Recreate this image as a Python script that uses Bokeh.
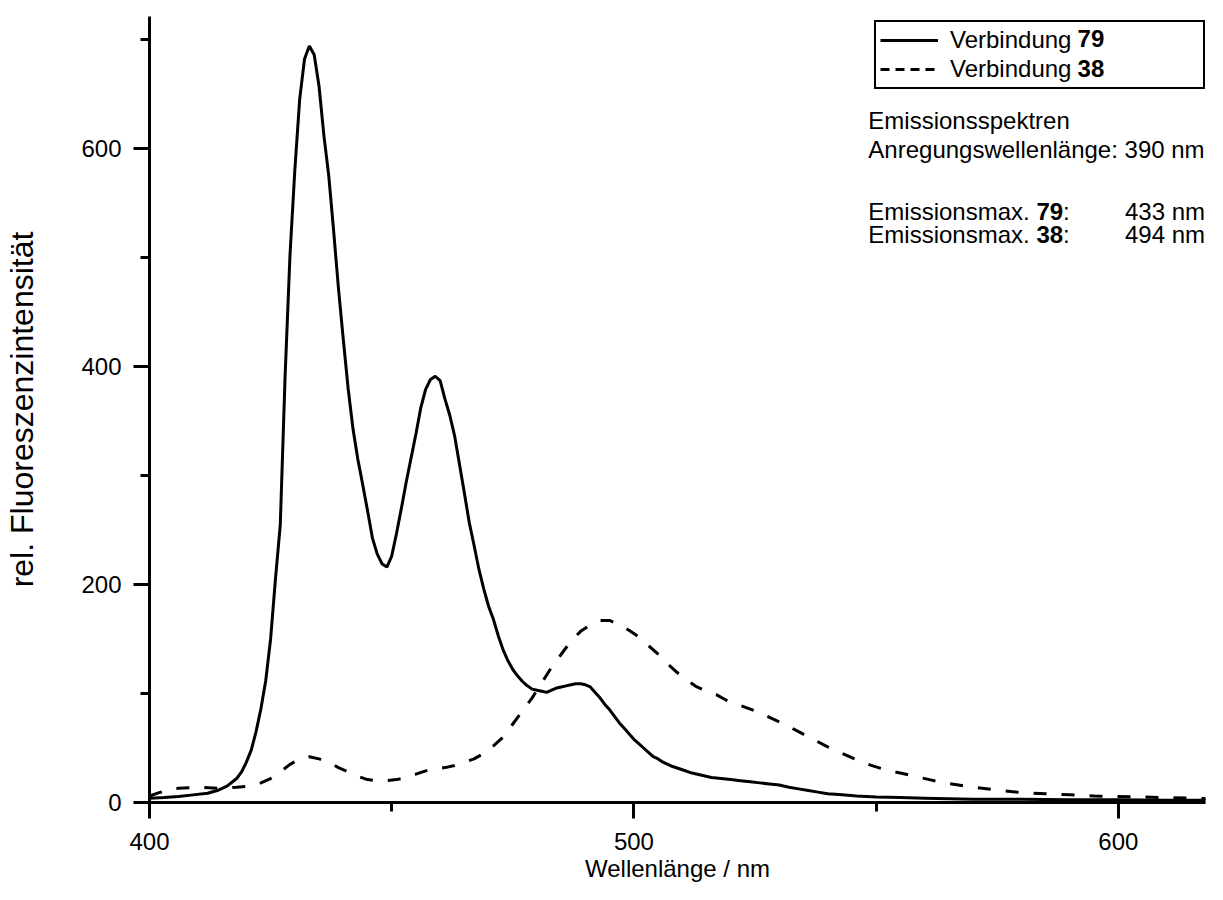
from bokeh.plotting import figure
from bokeh.models import FixedTicker, Legend, LegendItem, Label
from bokeh.embed import file_html
from bokeh.resources import INLINE

# ---------------- data ----------------
wl_79 = [400, 403, 406, 409, 412, 414, 416, 418, 419, 420, 421, 422, 423, 424, 425,
         426, 427, 428, 429, 430, 431, 432, 433, 434, 435, 436, 437, 438, 439, 440,
         441, 442, 443, 444, 445, 446, 447, 448, 449, 450, 451, 452, 453, 454, 455,
         456, 457, 458, 459, 460, 461, 462, 463, 464, 465, 466, 467, 468, 469, 470,
         471, 472, 473, 474, 475, 476, 477, 478, 479, 480, 481, 482, 483, 484, 485,
         486, 487, 488, 489, 490, 491, 492, 493, 494, 495, 496, 497, 498, 499, 500,
         501, 502, 503, 504, 505, 506, 507, 508, 510, 512, 514, 516, 518, 520, 522,
         524, 526, 528, 530, 532, 534, 536, 538, 540, 543, 546, 550, 555, 560, 565,
         570, 580, 590, 600, 610, 620]
int_79 = [4, 4.5, 5.5, 7, 8.5, 11, 15, 22, 28, 37, 48, 65, 86, 112, 150,
          205, 255, 392, 502, 580, 645, 682, 694, 686, 657, 612, 575, 525, 472, 425,
          380, 343, 315, 292, 268, 243, 228, 219, 216, 226, 247, 270, 294, 316, 338,
          362, 379, 388, 391, 387, 370, 355, 336, 310, 284, 257, 236, 214, 196, 180,
          168, 153, 140, 130, 122, 116, 111, 107, 104, 103, 102, 101, 103, 105, 106,
          107, 108, 109, 109, 108, 106, 101, 96, 90, 85, 79, 73, 68, 63, 58,
          54, 50, 46, 42, 40, 37, 35, 33, 30, 27, 25, 23, 22, 21, 20,
          19, 18, 17, 16, 14, 12.5, 11, 9.5, 8, 7, 6, 5, 4.5, 4, 3.5,
          3, 3, 2.5, 2.5, 2, 2]

wl_38 = [400, 402, 404, 406, 410, 414, 418, 421, 423, 425, 427, 429, 431, 433, 435,
         437, 439, 441, 443, 445, 447, 449, 451, 453, 455, 457, 459, 461, 463, 465,
         467, 469, 471, 473, 475, 477, 479, 481, 483, 485, 487, 489, 491, 493, 495,
         497, 499, 501, 503, 505, 507, 509, 511, 513, 515, 517, 519, 522, 525, 528,
         531, 534, 537, 540, 543, 546, 549, 552, 555, 558, 561, 564, 567, 570, 575,
         580, 585, 590, 595, 600, 605, 610, 615, 620]
int_38 = [6, 9, 12, 13, 14, 13, 14, 15, 18, 22, 28, 35, 40, 42, 40,
          37, 32, 28, 24, 21, 20, 20, 21, 23, 26, 29, 31, 32, 34, 37,
          40, 45, 52, 60, 72, 84, 96, 110, 124, 136, 148, 157, 163, 167, 167,
          163, 158, 152, 144, 136, 127, 119, 112, 106, 102, 99, 94, 89, 84, 78,
          72, 65, 58, 51, 45, 39, 34, 30, 27, 24, 21, 18, 16, 14, 11.5,
          9, 8, 7, 6, 5.5, 5, 4.5, 4, 3.5]

x_ticks = [400, 500, 600]
x_minor = [450, 550]
y_ticks = [0, 200, 400, 600]
y_minor = [100, 300, 500, 700]

FONT = "Liberation Sans"
FS = "24px"

p = figure(width=1207, height=884, x_range=(400, 618), y_range=(0, 721),
           output_backend="svg", toolbar_location=None,
           min_border_left=149, min_border_right=2, min_border_top=16,
           min_border_bottom=82)
p.outline_line_color = None
p.grid.visible = False
p.background_fill_color = "white"
p.border_fill_color = "white"

p.xaxis.ticker = FixedTicker(ticks=x_ticks, minor_ticks=x_minor)
p.yaxis.ticker = FixedTicker(ticks=y_ticks, minor_ticks=y_minor)
for ax in (p.xaxis[0], p.yaxis[0]):
    ax.axis_line_width = 3
    ax.axis_line_color = "black"
    ax.major_tick_line_width = 3
    ax.minor_tick_line_width = 3
    ax.major_tick_line_color = "black"
    ax.minor_tick_line_color = "black"
    ax.major_tick_in = 0
    ax.major_tick_out = 16
    ax.minor_tick_in = 0
    ax.minor_tick_out = 9
    ax.major_label_text_font = FONT
    ax.major_label_text_font_size = FS
    ax.major_label_text_color = "black"
    ax.axis_label_text_font = FONT
    ax.axis_label_text_font_size = FS
    ax.axis_label_text_font_style = "normal"
    ax.axis_label_text_color = "black"

p.xaxis.axis_label = "Wellenlänge / nm"
p.xaxis.major_label_standoff = 14
p.xaxis.axis_label_standoff = 2
p.yaxis.axis_label = "rel. Fluoreszenzintensität"
p.yaxis.axis_label_text_font_size = "32px"
p.yaxis.major_label_standoff = 12
p.yaxis.axis_label_standoff = 38

r79 = p.line(wl_79, int_79, line_width=3, line_color="black")
r38 = p.line(wl_38, int_38, line_width=3, line_color="black", line_dash="13 15")
# single-point renderer: draws nothing, only carries the legend's dash style
legend_dash = p.line(wl_38[:1], int_38[:1], line_width=3, line_color="black",
                     line_dash="9 6")

legend = Legend(items=[LegendItem(label="Verbindung", renderers=[r79]),
                       LegendItem(label="Verbindung", renderers=[legend_dash])],
                location=(725, 713))
legend.border_line_color = "black"
legend.border_line_alpha = 1.0
legend.border_line_width = 2
legend.background_fill_alpha = 0
legend.padding = 4
legend.spacing = 1
legend.margin = 0
legend.glyph_width = 58
legend.glyph_height = 20
legend.label_height = 20
legend.label_standoff = 12
legend.label_width = 249
legend.label_text_font = FONT
legend.label_text_font_size = FS
legend.label_text_color = "black"
p.add_layout(legend, "center")

def txt(x, y, t, bold=False, align="left"):
    p.add_layout(Label(x=x, y=y, text=t, text_font=FONT, text_font_size=FS,
                       text_font_style="bold" if bold else "normal",
                       text_align=align, text_baseline="middle",
                       text_color="black"))

# bold compound numbers in the legend
txt(591.6, 700.5, "79", bold=True)
txt(591.6, 673.0, "38", bold=True)

# annotation block
txt(548.4, 625.7, "Emissionsspektren")
txt(548.4, 599.1, "Anregungswellenlänge: 390 nm")
txt(548.4, 542.2, "Emissionsmax.")
txt(583.1, 542.2, "79", bold=True)
txt(588.6, 542.2, ":")
txt(617.9, 542.2, "433 nm", align="right")
txt(548.4, 521.1, "Emissionsmax.")
txt(583.1, 521.1, "38", bold=True)
txt(588.6, 521.1, ":")
txt(617.9, 521.1, "494 nm", align="right")

open("out.html", "w").write(file_html(p, INLINE))
